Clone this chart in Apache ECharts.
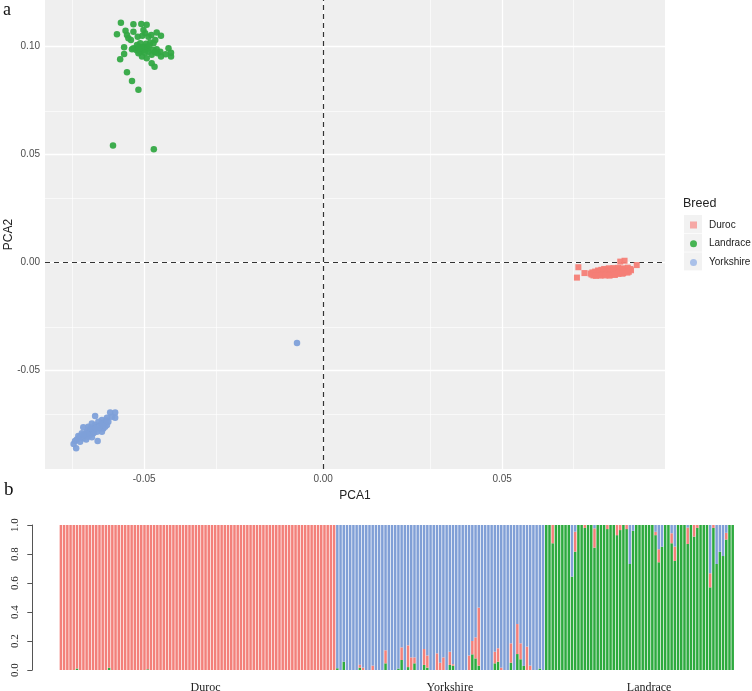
<!DOCTYPE html>
<html><head><meta charset="utf-8">
<script src="https://cdn.jsdelivr.net/npm/echarts@6/dist/echarts.min.js"></script>
<style>html,body{margin:0;padding:0;background:#fff}#c{width:752px;height:691px}</style>
</head><body><div id="c"></div>
<script>
// ---------- Panel a: PCA ----------
const breeds = ['Duroc', 'Landrace', 'Yorkshire'];
const pcaDuroc = [
  [0.0713,-0.0021],[0.0730,-0.0048],[0.0709,-0.0069],[0.0876,-0.0011],[0.0830,0.0005],[0.0842,0.0009],
  [0.0785,-0.0029],[0.0798,-0.0026],[0.0811,-0.0025],[0.0824,-0.0024],[0.0838,-0.0026],[0.0851,-0.0023],
  [0.0768,-0.0036],[0.0777,-0.0033],[0.0790,-0.0034],[0.0803,-0.0031],[0.0816,-0.0032],[0.0830,-0.0030],[0.0845,-0.0031],[0.0858,-0.0029],
  [0.0752,-0.0045],[0.0760,-0.0041],[0.0770,-0.0040],[0.0780,-0.0038],[0.0792,-0.0039],[0.0801,-0.0041],[0.0812,-0.0037],[0.0823,-0.0039],[0.0835,-0.0036],[0.0849,-0.0038],[0.0860,-0.0035],
  [0.0747,-0.0050],[0.0756,-0.0047],[0.0766,-0.0046],[0.0776,-0.0044],[0.0786,-0.0045],[0.0797,-0.0043],[0.0808,-0.0045],[0.0819,-0.0042],[0.0829,-0.0043],[0.0841,-0.0041],[0.0854,-0.0042],
  [0.0750,-0.0055],[0.0761,-0.0052],[0.0772,-0.0051],[0.0783,-0.0049],[0.0794,-0.0050],[0.0805,-0.0048],[0.0816,-0.0049],[0.0826,-0.0047],[0.0838,-0.0048],[0.0850,-0.0046],
  [0.0755,-0.0059],[0.0766,-0.0057],[0.0778,-0.0056],[0.0790,-0.0055],[0.0801,-0.0056],[0.0813,-0.0053],[0.0825,-0.0052],[0.0836,-0.0051],
  [0.0762,-0.0061],[0.0775,-0.0060],[0.0788,-0.0059],[0.0800,-0.0060],[0.0815,-0.0057]
];
const pcaLandrace = [
  [-0.0565,0.1111],[-0.0530,0.1104],[-0.0508,0.1105],[-0.0493,0.1102],[-0.0576,0.1057],[-0.0552,0.1074],[-0.0548,0.1054],
  [-0.0530,0.1069],[-0.0544,0.1039],[-0.0537,0.1031],[-0.0518,0.1046],[-0.0502,0.1077],[-0.0497,0.1062],[-0.0505,0.1051],
  [-0.0488,0.1046],[-0.0480,0.1054],[-0.0465,0.1065],[-0.0453,0.1050],[-0.0469,0.1031],[-0.0483,0.1019],[-0.0495,0.1013],
  [-0.0511,0.1016],[-0.0520,0.1008],[-0.0530,0.0993],[-0.0516,0.1000],[-0.0506,0.0993],[-0.0493,0.1000],[-0.0474,0.1016],
  [-0.0556,0.0997],[-0.0522,0.0985],[-0.0511,0.0977],[-0.0502,0.0985],[-0.0488,0.0977],[-0.0474,0.0985],[-0.0465,0.0988],
  [-0.0455,0.0977],[-0.0432,0.0993],[-0.0425,0.0972],[-0.0425,0.0954],[-0.0453,0.0954],[-0.0463,0.0969],[-0.0479,0.0962],
  [-0.0493,0.0946],[-0.0506,0.0954],[-0.0516,0.0969],[-0.0534,0.0988],[-0.0556,0.0966],[-0.0567,0.0942],[-0.0548,0.0881],
  [-0.0534,0.0841],[-0.0516,0.0800],[-0.0479,0.0923],[-0.0471,0.0907],[-0.0587,0.0542],[-0.0473,0.0525],
  [-0.0500,0.1000],[-0.0508,0.0997],[-0.0490,0.0990],[-0.0515,0.0990],[-0.0498,0.0972],[-0.0485,0.1005],[-0.0470,0.0975],[-0.0440,0.0965]
];
const pcaYorkshire = [
  [-0.0637,-0.0710],[-0.0595,-0.0693],[-0.0581,-0.0693],[-0.0581,-0.0718],[-0.0604,-0.0718],[-0.0618,-0.0728],[-0.0628,-0.0736],
  [-0.0614,-0.0741],[-0.0604,-0.0751],[-0.0623,-0.0751],[-0.0632,-0.0759],[-0.0646,-0.0744],[-0.0656,-0.0759],[-0.0670,-0.0762],
  [-0.0639,-0.0771],[-0.0651,-0.0775],[-0.0660,-0.0782],[-0.0674,-0.0790],[-0.0684,-0.0802],[-0.0665,-0.0798],[-0.0651,-0.0798],
  [-0.0642,-0.0790],[-0.0632,-0.0782],[-0.0623,-0.0767],[-0.0614,-0.0767],[-0.0671,-0.0813],[-0.0688,-0.0818],[-0.0693,-0.0825],
  [-0.0697,-0.0839],[-0.0690,-0.0859],[-0.0679,-0.0829],[-0.0662,-0.0818],[-0.0646,-0.0808],[-0.0630,-0.0825],[-0.0658,-0.0806],
  [-0.0609,-0.0759],[-0.0600,-0.0736],[-0.0590,-0.0713],[-0.0618,-0.0782],[-0.0637,-0.0751],[-0.0679,-0.0806],
  [-0.0655,-0.0785],[-0.0645,-0.0770],[-0.0625,-0.0760],[-0.0640,-0.0785],[-0.0660,-0.0790],[-0.0615,-0.0745],[-0.0650,-0.0765],
  [-0.0670,-0.0795],[-0.0635,-0.0765],[-0.0605,-0.0730],
  [-0.0073,-0.0372]
];
const pcaXRange = [-0.0777, 0.0955];
const pcaYRange = [-0.0955, 0.1216];
const xTicks = [-0.05, 0, 0.05];
const yTicks = [-0.05, 0, 0.05, 0.10];
const xMinor = [-0.075, -0.025, 0.025, 0.075];
const yMinor = [-0.075, -0.025, 0.025, 0.075];

// ---------- Panel b: admixture (K=3) ----------
const groupNames = ['Duroc', 'Yorkshire', 'Landrace'];
const groupLabelAt = [45, 121, 183];
const durocGreen = [
  0,0,0,0,0,0.01,0,0,0,0,
  0,0,0,0,0,0.015,0,0,0,0,
  0,0,0,0,0,0,0,0.005,0,0,
  0,0,0,0,0,0,0,0,0,0,
  0,0,0,0,0,0,0,0,0,0,
  0,0,0,0,0,0,0,0,0,0,
  0,0,0,0,0,0,0,0,0,0,
  0,0,0,0,0,0,0,0,0,0,
  0,0,0,0,0,0
];
const durocRed = [
  1,1,1,1,1,0.99,1,1,1,1,
  1,1,1,1,1,0.985,1,1,1,1,
  1,1,1,1,1,1,1,0.995,1,1,
  1,1,1,1,1,1,1,1,1,1,
  1,1,1,1,1,1,1,1,1,1,
  1,1,1,1,1,1,1,1,1,1,
  1,1,1,1,1,1,1,1,1,1,
  1,1,1,1,1,1,1,1,1,1,
  1,1,1,1,1,1
];
const yorkGreen = [
  0.012,0,0.057,0,0,0,0,0.016,0,0,
  0,0,0,0,0,0.046,0,0,0,0.01,
  0.069,0,0.02,0,0.046,0,0,0.035,0.016,0,
  0,0,0,0,0,0.035,0.03,0,0,0,
  0,0,0.108,0.08,0.03,0,0,0,0,0.046,
  0.057,0,0,0,0.05,0,0.11,0.074,0.028,0,
  0,0,0,0.01,0
];
const yorkRed = [
  0,0,0,0,0,0,0,0.02,0.016,0,
  0,0.03,0,0,0,0.09,0,0,0,0,
  0.087,0,0.15,0.087,0.041,0,0,0.11,0.084,0,
  0,0.115,0.05,0.087,0,0.091,0.01,0,0,0,
  0,0.1,0.092,0.145,0.40,0,0,0,0,0.08,
  0.093,0.016,0,0,0.134,0,0.207,0.11,0,0.161,
  0.03,0,0,0,0
];
const landGreen = [
  1,1,0.874,1,1,1,1,1,0.644,0.816,
  1,1,0.98,1,1,0.844,1,1,1,0.972,
  1,1,0.93,0.965,1,0.972,0.731,0.96,1,1,
  1,1,1,1,0.93,0.743,0.85,1,1,0.874,
  0.752,1,1,1,0.869,1,0.92,0.98,1,1,
  1,0.57,0.98,0.731,0.816,0.786,0.9,1,1
];
const landRed = [
  0,0,0.126,0,0,0,0,0,0,0.138,
  0,0,0.02,0,0,0.133,0,0,0,0.028,
  0,0,0.07,0.035,0,0.028,0,0,0,0,
  0,0,0,0,0.023,0.09,0,0,0,0.069,
  0.099,0,0,0,0.113,0,0.08,0.02,0,0,
  0,0.097,0.02,0,0,0,0.046,0,0
];
const qGreen = durocGreen.concat(yorkGreen, landGreen);
const qRed = durocRed.concat(yorkRed, landRed);
const qBlue = qGreen.map((g, i) => Math.max(0, +(1 - g - qRed[i]).toFixed(3)));
const samples = qGreen.map((_, i) => String(i + 1));

const colRed = '#F47E76', colGreen = '#33A843', colBlue = '#7EA0D9';
const barRed = '#F3807A', barGreen = '#2DAA3E', barBlue = '#809FD6';
const sans = 'Liberation Sans, Arial, sans-serif';
const serif = 'Liberation Serif, Times New Roman, serif';

function vLines(vals, style) {
  return vals.map(v => ({ xAxis: v, lineStyle: style }));
}
function hLines(vals, style) {
  return vals.map(v => ({ yAxis: v, lineStyle: style }));
}
const major = { color: '#ffffff', width: 1.3, type: 'solid' };
const minor = { color: '#ffffff', width: 0.6, type: 'solid' };
const dashed = { color: '#333333', width: 1.2, type: [5, 4] };

const chart = echarts.init(document.getElementById('c'), null, { renderer: 'canvas' });
chart.setOption({
  animation: false,
  backgroundColor: '#ffffff',
  title: [
    { text: 'a', left: 3, top: 1, padding: 0, textStyle: { fontFamily: serif, fontSize: 18, fontWeight: 'normal', color: '#111' } },
    { text: 'b', left: 4, top: 481, padding: 0, textStyle: { fontFamily: serif, fontSize: 19, fontWeight: 'normal', color: '#111' } },
    { text: 'Breed', left: 683, top: 197, padding: 0, textStyle: { fontFamily: sans, fontSize: 12.5, fontWeight: 'normal', color: '#222' } }
  ],
  legend: {
    orient: 'vertical', left: 690, top: 220, padding: 0, itemWidth: 7, itemHeight: 7, itemGap: 8.7,
    textStyle: { fontFamily: sans, fontSize: 10, color: '#222', padding: [0, 0, 0, 7] },
    data: [
      { name: 'Duroc', icon: 'rect', itemStyle: { color: '#F5A3A0' } },
      { name: 'Landrace', icon: 'circle', itemStyle: { color: '#3DB04A' } },
      { name: 'Yorkshire', icon: 'circle', itemStyle: { color: '#A4BDE8' } }
    ],
    selectedMode: false
  },
  graphic: [0, 1, 2].map(k => ({
    type: 'rect', left: 684, top: 215 + 18.7 * k, z: -1,
    shape: { width: 18, height: 18 }, style: { fill: '#F2F2F2' }, silent: true
  })),
  grid: [
    { left: 45, top: 0, width: 620, height: 469, show: true, backgroundColor: '#EFEFEF', borderWidth: 0, outerBoundsMode: 'none', containLabel: false },
    { left: 59.3, top: 525, width: 675, height: 145, outerBoundsMode: 'none', containLabel: false }
  ],
  xAxis: [
    {
      gridIndex: 0, type: 'value', min: pcaXRange[0], max: pcaXRange[1],
      name: 'PCA1', nameLocation: 'middle', nameGap: 21, nameMoveOverlap: false,
      nameTextStyle: { fontFamily: sans, fontSize: 12, color: '#222' },
      axisLine: { show: false },
      axisTick: { show: true, length: 4, customValues: xTicks, lineStyle: { color: '#444', width: 1 } },
      axisLabel: { customValues: xTicks, margin: 5, fontFamily: sans, fontSize: 10, color: '#4D4D4D', formatter: v => v.toFixed(2) },
      splitLine: { show: false }
    },
    {
      gridIndex: 1, type: 'category', data: samples, boundaryGap: true,
      axisLine: { show: false }, axisTick: { show: false },
      axisLabel: {
        interval: 0, margin: 12, fontFamily: serif, fontSize: 12, color: '#222',
        formatter: (v, i) => { const k = groupLabelAt.indexOf(i); return k >= 0 ? groupNames[k] : ''; }
      },
      splitLine: { show: false }
    }
  ],
  yAxis: [
    {
      gridIndex: 0, type: 'value', min: pcaYRange[0], max: pcaYRange[1],
      name: 'PCA2', nameLocation: 'middle', nameGap: 30, nameRotate: 90, nameMoveOverlap: false,
      nameTextStyle: { fontFamily: sans, fontSize: 12, color: '#222' },
      axisLine: { show: false },
      axisTick: { show: true, length: 4, customValues: yTicks, lineStyle: { color: '#444', width: 1 } },
      axisLabel: { customValues: yTicks, margin: 5, fontFamily: sans, fontSize: 10, color: '#4D4D4D', formatter: v => v.toFixed(2) },
      splitLine: { show: false }
    },
    {
      gridIndex: 1, type: 'value', min: 0, max: 1, interval: 0.2, offset: 27,
      axisLine: { show: true, lineStyle: { color: '#555', width: 1 } },
      axisTick: { show: true, length: 5, lineStyle: { color: '#555' } },
      axisLabel: { rotate: 90, margin: 12, fontFamily: serif, fontSize: 11, color: '#222', formatter: v => v.toFixed(1) },
      splitLine: { show: false }
    }
  ],
  series: [
    {
      name: 'grid-lines', type: 'scatter', xAxisIndex: 0, yAxisIndex: 0, data: [], silent: true,
      markLine: {
        silent: true, symbol: ['none', 'none'], label: { show: false }, z: 1, animation: false,
        emphasis: { disabled: true },
        data: vLines(xMinor, minor).concat(hLines(yMinor, minor), vLines(xTicks, major), hLines(yTicks, major))
      }
    },
    {
      name: 'Duroc', type: 'scatter', xAxisIndex: 0, yAxisIndex: 0, data: pcaDuroc,
      symbol: 'rect', symbolSize: 6, itemStyle: { color: colRed, opacity: 0.95 }, z: 3,
      markLine: {
        silent: true, symbol: ['none', 'none'], label: { show: false }, z: 2, animation: false,
        emphasis: { disabled: true },
        data: [{ xAxis: 0, lineStyle: dashed }, { yAxis: 0, lineStyle: dashed }]
      }
    },
    {
      name: 'Landrace', type: 'scatter', xAxisIndex: 0, yAxisIndex: 0, data: pcaLandrace,
      symbol: 'circle', symbolSize: 6.5, itemStyle: { color: colGreen, opacity: 0.95 }, z: 3
    },
    {
      name: 'Yorkshire', type: 'scatter', xAxisIndex: 0, yAxisIndex: 0, data: pcaYorkshire,
      symbol: 'circle', symbolSize: 6.5, itemStyle: { color: colBlue, opacity: 0.95 }, z: 3
    },
    {
      name: 'Q-green', type: 'bar', xAxisIndex: 1, yAxisIndex: 1, stack: 'q', data: qGreen,
      barCategoryGap: '22%', itemStyle: { color: barGreen }, silent: true
    },
    {
      name: 'Q-red', type: 'bar', xAxisIndex: 1, yAxisIndex: 1, stack: 'q', data: qRed,
      barCategoryGap: '22%', itemStyle: { color: barRed }, silent: true
    },
    {
      name: 'Q-blue', type: 'bar', xAxisIndex: 1, yAxisIndex: 1, stack: 'q', data: qBlue,
      barCategoryGap: '22%', itemStyle: { color: barBlue }, silent: true
    }
  ]
});
</script></body></html>
